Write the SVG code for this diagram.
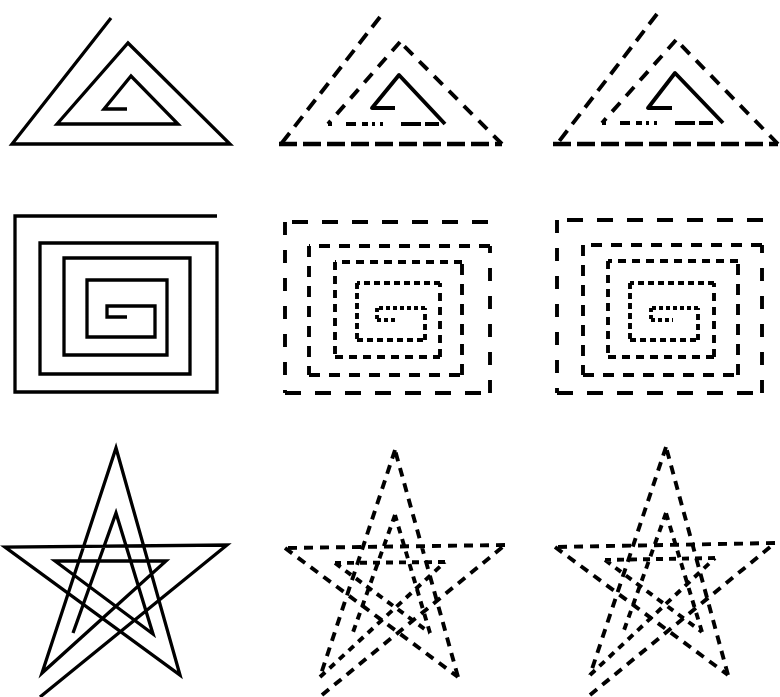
<svg xmlns="http://www.w3.org/2000/svg" width="780" height="697" viewBox="0 0 780 697">
<style>
.s{fill:none;stroke:#000;stroke-width:3.3;stroke-linejoin:miter}
.d{fill:none;stroke:#000;stroke-width:3.9;stroke-linecap:butt;stroke-linejoin:round}
.t1{stroke-dasharray:13 8}
.t2{stroke-dasharray:18 6;stroke-width:4.4}
.t3{stroke-dasharray:12 9}
.t4{stroke-dasharray:4 14 10 6 6 4 3 5 3 18 20}
.q1{stroke-dasharray:16 14}
.q1v{stroke-dasharray:13 15}
.q2{stroke-dasharray:11 9}
.q3{stroke-dasharray:8 6}
.q4{stroke-dasharray:6 4}
.q5{stroke-dasharray:4 3}
.p1{stroke-dasharray:9 7}
.p2{stroke-dasharray:7 6}
</style>
<rect width="780" height="697" fill="#fff"/>
<g id="triangle-solid">
<polyline class="s" points="111,18 12,144 230,144 128,43 57,124 178,124 131,76 104,109 127,109"/>
</g>
<g id="triangle-dashed-1">
<path class="d t1" d="M380,17 L281,144"/>
<path class="d t2" d="M279,144 L502,144"/>
<path class="d t3" d="M502,144 L400,42"/>
<path class="d t3" d="M400,42 L328,124"/>
<path class="d t4" d="M328,124 L445,124"/>
<polyline class="d" points="445,124 399,75 372,108 395,108"/>
</g>
<g id="triangle-dashed-2">
<path class="d t1" d="M657,14 L557,144"/>
<path class="d t2" d="M553,144 L778,144"/>
<path class="d t3" d="M778,144 L676,40"/>
<path class="d t3" d="M676,40 L602,123"/>
<path class="d t4" d="M602,123 L723,123"/>
<polyline class="d" points="723,123 675,73 648,108 672,108"/>
</g>
<g id="square-solid">
<polyline class="s" points="217,216 15,216 15,392 217,392 217,243 40,243 40,374 190,374 190,258 64,258 64,355 167,355 167,280 87,280 87,337 155,337 155,306 107,306 107,317 127,317"/>
</g>
<g id="square-dashed-1">
<path class="d q1" d="M488,222 L285,222"/>
<path class="d q1v" d="M285,222 L285,393"/>
<path class="d q1" d="M285,393 L490,393"/>
<path class="d q1v" d="M490,393 L490,246"/>
<path class="d q2" d="M490,246 L309,246 M309,246 L309,375 M309,375 L462,375 M462,375 L462,262"/>
<path class="d q3" d="M462,262 L335,262 M335,262 L335,357 M335,357 L440,357 M440,357 L440,283"/>
<path class="d q4" d="M440,283 L357,283 M357,283 L357,340 M357,340 L425,340 M425,340 L425,308"/>
<path class="d q5" d="M425,308 L377,308 M377,308 L377,320 M377,320 L398,320"/>
</g>
<g id="square-dashed-2">
<path class="d q1" d="M763,220 L557,220"/>
<path class="d q1v" d="M557,220 L557,393"/>
<path class="d q1" d="M557,393 L762,393"/>
<path class="d q1v" d="M762,393 L762,245"/>
<path class="d q2" d="M762,245 L583,245 M583,245 L583,375 M583,375 L738,375 M738,375 L738,261"/>
<path class="d q3" d="M738,261 L608,261 M608,261 L608,357 M608,357 L714,357 M714,357 L714,283"/>
<path class="d q4" d="M714,283 L630,283 M630,283 L630,340 M630,340 L698,340 M698,340 L698,308"/>
<path class="d q5" d="M698,308 L651,308 M651,308 L651,320 M651,320 L673,320"/>
</g>
<g id="star-solid">
<polyline class="s" points="40,697 227,545 5,547 180,675 116,448 42,673 166,561 55,561 153,634 116,513 73,633"/>
</g>
<g id="star-dashed-1">
<path class="d p1" d="M322,695 L505,545 M505,545 L285,548 M285,548 L458,677 M458,677 L395,450 M395,450 L320,677"/>
<path class="d p2" d="M320,677 L445,562 M445,562 L335,563 M335,563 L430,633 M430,633 L395,515 M395,515 L352,635"/>
</g>
<g id="star-dashed-2">
<path class="d p1" d="M590,695 L775,543 M775,543 L555,547 M555,547 L728,675 M728,675 L666,447 M666,447 L590,675"/>
<path class="d p2" d="M590,675 L715,558 M715,558 L605,560 M605,560 L702,632 M702,632 L666,513 M666,513 L623,633"/>
</g>
</svg>
